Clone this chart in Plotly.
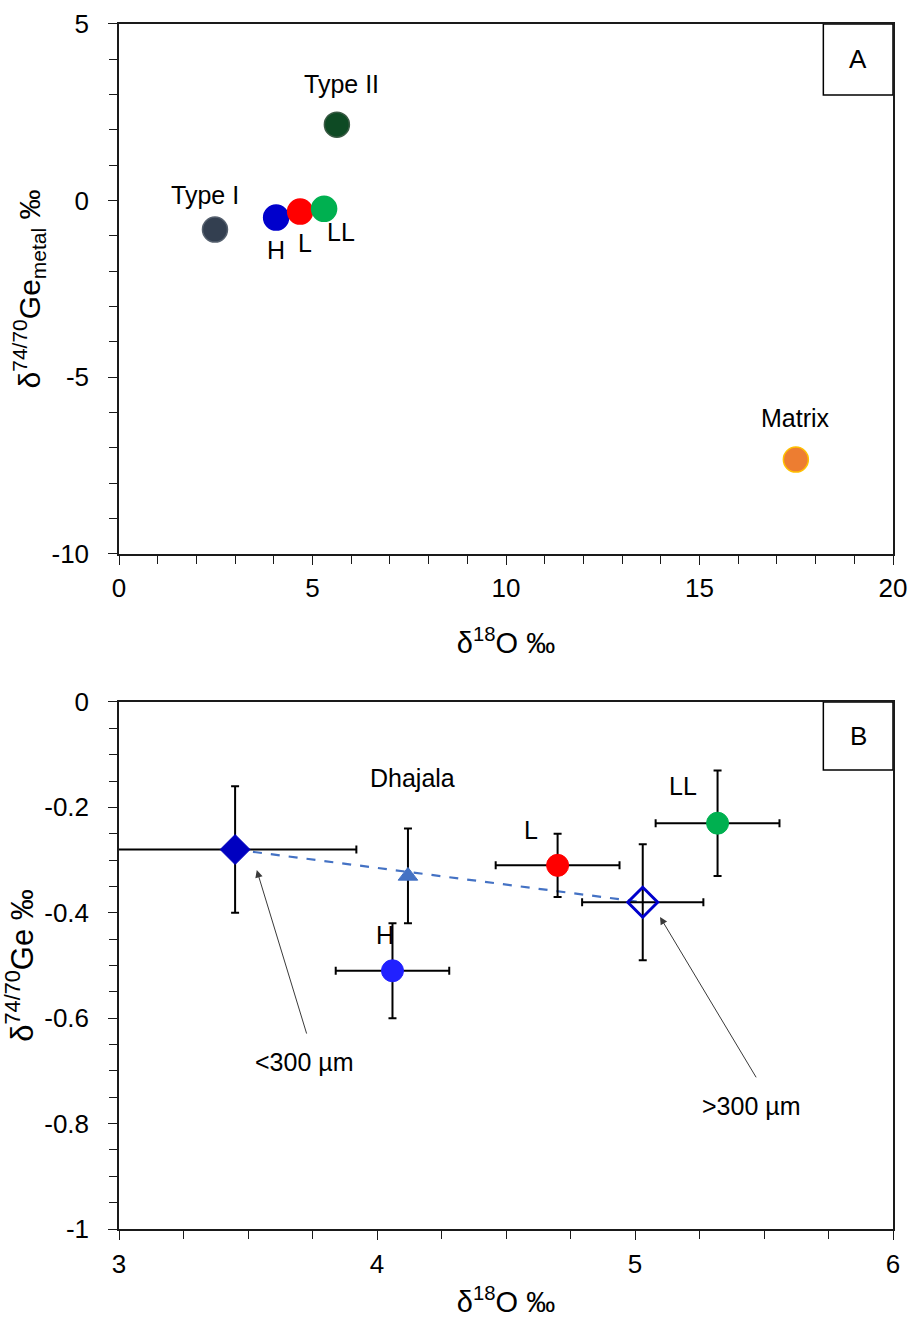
import plotly.graph_objects as go

# ---------------- data: panel A ----------------
a_groups = ["Type I", "H", "L", "LL", "Type II", "Matrix"]
a_d18O = [2.48, 4.06, 4.68, 5.30, 5.63, 17.49]
a_dGe = [-0.82, -0.48, -0.31, -0.23, 2.15, -7.33]

# ---------------- data: panel B ----------------
b_groups = ["<300 µm", "Dhajala", "H", "L", ">300 µm", "LL"]
b_d18O = [3.45, 4.12, 4.06, 4.70, 5.03, 5.32]
b_dGe = [-0.28, -0.33, -0.51, -0.31, -0.38, -0.23]
b_xerr = [0.47, 0.0, 0.22, 0.24, 0.235, 0.24]
b_yerr = [0.12, 0.09, 0.09, 0.06, 0.11, 0.10]

# size-fraction callouts: arrow tip, arrow tail, label position (data units)
call_labels = ["<300 µm", ">300 µm"]
call_tip_x = [3.534, 5.097]
call_tip_y = [-0.319, -0.408]
call_tail_x = [3.729, 5.473]
call_tail_y = [-0.632, -0.715]
call_text_x = [3.72, 5.45]
call_text_y = [-0.683, -0.767]

# ticks
a_xticks = [0, 5, 10, 15, 20]
a_yticks = [5, 0, -5, -10]
a_yticktext = ["5", "0", "-5", "-10"]
b_xticks = [3, 4, 5, 6]
b_yticks = [0, -0.2, -0.4, -0.6, -0.8, -1]
b_yticktext = ["0", "-0.2", "-0.4", "-0.6", "-0.8", "-1"]

# ---------------- styles ----------------
FONT = "Liberation Sans, Arial, sans-serif"
a_style = {
    "Type I": dict(color="#333F50", line="#55606e", dx=-10, dy=-35),
    "H": dict(color="#0000CC", line="#0000CC", dx=0, dy=32),
    "L": dict(color="#FF0000", line="#FF0000", dx=5, dy=31),
    "LL": dict(color="#00B050", line="#00B050", dx=17, dy=23),
    "Type II": dict(color="#0E4A24", line="#3a5a44", dx=5, dy=-41),
    "Matrix": dict(color="#ED7D31", line="#FFC000", dx=0, dy=-42),
}
b_style = {
    "<300 µm": dict(symbol="diamond", size=23, color="#0000C0", line="#0000C0", lw=1),
    "Dhajala": dict(symbol="triangle-up", size=17, color="#4472C4", line="#4472C4", lw=1),
    "H": dict(symbol="circle", size=22, color="#2121FF", line="#2121FF", lw=1),
    "L": dict(symbol="circle", size=22, color="#FF0000", line="#FF0000", lw=1),
    ">300 µm": dict(symbol="diamond-open", size=23, color="#0000CC", line="#0000CC", lw=3),
    "LL": dict(symbol="circle", size=22, color="#00B050", line="#00B050", lw=1),
}
b_label_off = {"Dhajala": (5, -98), "H": (-7, -36), "L": (-27, -35), "LL": (-35, -37)}

fig = go.Figure()

# panel A markers
for g, x, y in zip(a_groups, a_d18O, a_dGe):
    s = a_style[g]
    fig.add_trace(go.Scatter(
        x=[x], y=[y], mode="markers", xaxis="x", yaxis="y", showlegend=False,
        marker=dict(size=25, color=s["color"], line=dict(color=s["line"], width=1.5)),
    ))
    fig.add_annotation(x=x, y=y, xref="x", yref="y", text=g, showarrow=False,
                       xshift=s["dx"], yshift=-s["dy"],
                       font=dict(family=FONT, size=25, color="black"))

# panel B dashed link between the two size fractions
link_idx = [b_groups.index("<300 µm"), b_groups.index(">300 µm")]
fig.add_trace(go.Scatter(
    x=[b_d18O[i] for i in link_idx], y=[b_dGe[i] for i in link_idx],
    mode="lines", xaxis="x2", yaxis="y2", showlegend=False,
    line=dict(color="#4472C4", width=2.2, dash="dash"),
))

# panel B points with error bars
for g, x, y, ex, ey in zip(b_groups, b_d18O, b_dGe, b_xerr, b_yerr):
    s = b_style[g]
    fig.add_trace(go.Scatter(
        x=[x], y=[y], mode="markers", xaxis="x2", yaxis="y2", showlegend=False,
        marker=dict(symbol=s["symbol"], size=s["size"], color=s["color"],
                    line=dict(color=s["line"], width=s["lw"])),
        error_x=dict(type="data", array=[ex], visible=ex > 0, color="black", thickness=2, width=4),
        error_y=dict(type="data", array=[ey], visible=True, color="black", thickness=2, width=4),
    ))
    if g in b_label_off:
        dx, dy = b_label_off[g]
        fig.add_annotation(x=x, y=y, xref="x2", yref="y2", text=g, showarrow=False,
                           xshift=dx, yshift=-dy,
                           font=dict(family=FONT, size=25, color="black"))

# arrows + labels for size fractions
for lab, tx, ty, sx, sy, lx, ly in zip(call_labels, call_tip_x, call_tip_y, call_tail_x,
                                       call_tail_y, call_text_x, call_text_y):
    fig.add_annotation(x=tx, y=ty, xref="x2", yref="y2", ax=sx, ay=sy, axref="x2", ayref="y2",
                       text="", showarrow=True, arrowhead=2, arrowsize=1.5, arrowwidth=1,
                       arrowcolor="#3a3a3a")
    fig.add_annotation(x=lx, y=ly, xref="x2", yref="y2", text=lab, showarrow=False,
                       font=dict(family=FONT, size=25, color="black"))

# panel letters in boxes
for xr, yr, letter, y0 in [("x", "y", "A", 0.866), ("x2", "y2", "B", 0.871)]:
    fig.add_shape(type="rect", xref=f"{xr} domain", yref=f"{yr} domain",
                  x0=0.91, x1=1.0, y0=y0, y1=1.0, line=dict(color="black", width=1.5),
                  fillcolor="white", layer="below")
    fig.add_annotation(xref=f"{xr} domain", yref=f"{yr} domain", x=0.955, y=(y0 + 1) / 2,
                       xanchor="center", yanchor="middle", text=letter, showarrow=False,
                       font=dict(family=FONT, size=26, color="black"))

axis_common = dict(showline=True, linecolor="#1a1a1a", linewidth=1.5, mirror=True,
                   showgrid=False, zeroline=False, ticks="outside", ticklen=9,
                   tickwidth=1.3, tickcolor="#1a1a1a", automargin=False,
                   tickfont=dict(family=FONT, size=26, color="black"))
inner_common = dict(showline=False, showgrid=False, zeroline=False, ticks="inside",
                    ticklen=9, tickwidth=1.3, tickcolor="#1a1a1a", showticklabels=False,
                    automargin=False)
minor_common = dict(ticks="outside", ticklen=8, tickwidth=1.3, tickcolor="#1a1a1a")

domA = [0.5797, 0.9818]
domB = [0.0675, 0.4674]

fig.update_layout(
    width=911, height=1318,
    margin=dict(l=119, r=18, t=0, b=0, pad=0),
    paper_bgcolor="white", plot_bgcolor="white",
    xaxis=dict(**axis_common, domain=[0, 1], anchor="y", range=[0, 20],
               tickvals=a_xticks, ticklabelstandoff=1,
               minor=dict(**minor_common, dtick=1),
               title=dict(text="δ<sup>18</sup>O ‰", standoff=31,
                          font=dict(family=FONT, size=29, color="black"))),
    yaxis=dict(**axis_common, domain=domA, anchor="x", range=[-10, 5],
               tickvals=a_yticks, ticktext=a_yticktext, ticklabelstandoff=14,
               minor=dict(**minor_common, dtick=1),
               title=dict(text="δ<sup>74/70</sup>Ge<sub>metal</sub> ‰", standoff=2,
                          font=dict(family=FONT, size=30, color="black"))),
    xaxis2=dict(**axis_common, domain=[0, 1], anchor="y2", range=[3, 6],
                tickvals=b_xticks, ticklabelstandoff=2,
                minor=dict(**minor_common, dtick=0.25),
                title=dict(text="δ<sup>18</sup>O ‰", standoff=25,
                           font=dict(family=FONT, size=29, color="black"))),
    yaxis2=dict(**axis_common, domain=domB, anchor="x2", range=[-1, 0],
                tickvals=b_yticks, ticktext=b_yticktext, ticklabelstandoff=14,
                minor=dict(**minor_common, dtick=0.05),
                title=dict(text="δ<sup>74/70</sup>Ge ‰", standoff=1,
                           font=dict(family=FONT, size=31, color="black"))),
    # inner halves of the crossing major ticks
    xaxis3=dict(**inner_common, overlaying="x", anchor="y", side="bottom", range=[0, 20], tickvals=a_xticks),
    yaxis3=dict(**inner_common, overlaying="y", anchor="x", side="left", range=[-10, 5], tickvals=a_yticks),
    xaxis4=dict(**inner_common, overlaying="x2", anchor="y2", side="bottom", range=[3, 6], tickvals=b_xticks),
    yaxis4=dict(**inner_common, overlaying="y2", anchor="x2", side="left", range=[-1, 0], tickvals=b_yticks),
)

fig.write_html("out.html", config={"displayModeBar": False},
               post_script="document.body.style.margin='0';document.body.style.overflow='hidden';")
